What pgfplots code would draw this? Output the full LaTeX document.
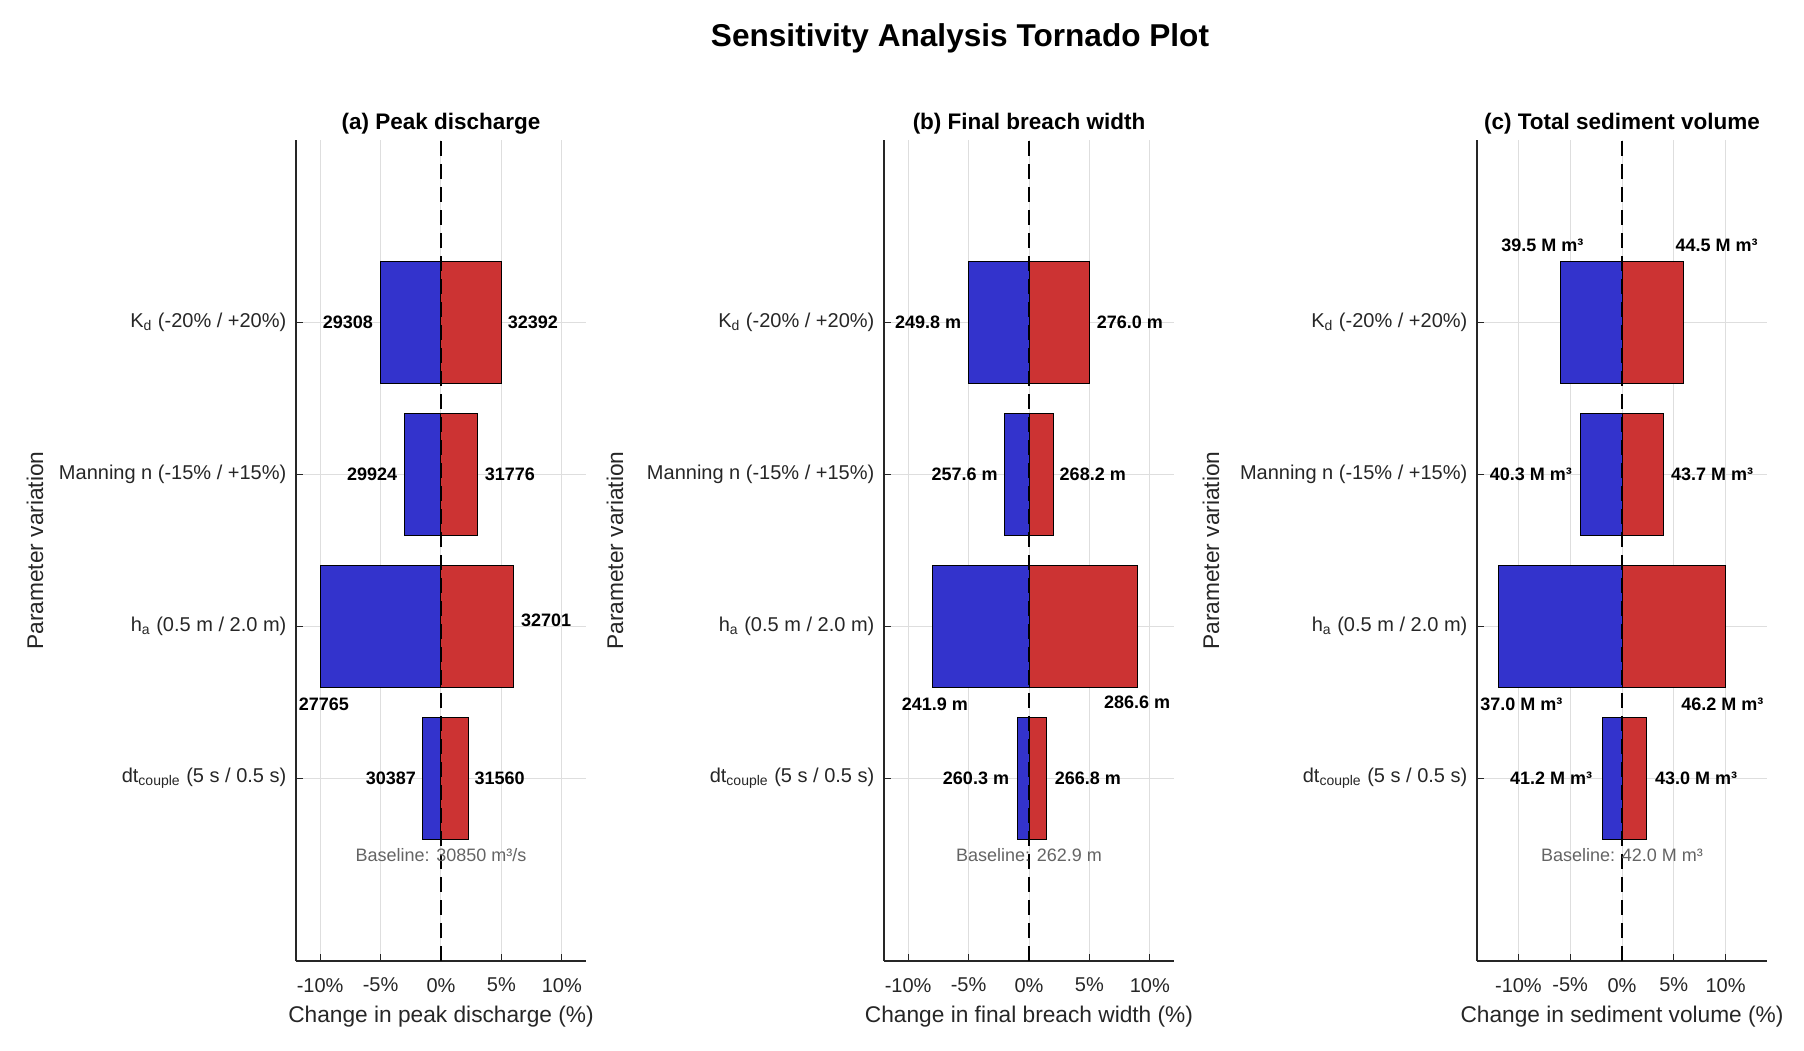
\documentclass[border=0pt]{standalone}
\usepackage{fontspec}
\setmainfont{Liberation Sans}
\usepackage{pgfplots}
\pgfplotsset{compat=1.18}
\definecolor{barblue}{RGB}{51,51,204}
\definecolor{barred}{RGB}{204,51,51}
\definecolor{axgray}{RGB}{38,38,38}
\definecolor{gridgray}{RGB}{222,222,222}
\definecolor{basegray}{RGB}{100,100,100}

\pgfplotsset{
  tornado/.style={
    scale only axis, width=145pt, height=410.5pt,
    axis x line*=bottom, axis y line*=left,
    ymin=-0.2, ymax=5.2,
    ytick={1,2,3,4},
    yticklabels={dt\textsubscript{couple} (5 s / 0.5 s), h\textsubscript{a} (0.5 m / 2.0 m), Manning n (-15\% / +15\%), K\textsubscript{d} (-20\% / +20\%)},
    xtick={-10,-5,0,5,10},
    xticklabels={-10\%,-5\%,0\%,5\%,10\%},
    tick align=inside,
    major tick length=3.5pt,
    xmajorgrids, ymajorgrids,
    grid style={gridgray, line width=0.5pt},
    axis line style={axgray, line width=0.6pt},
    tick style={axgray, line width=0.6pt},
    tick label style={font=\fontsize{10}{12}\selectfont, text=axgray},
    xticklabel style={yshift=-5pt},
    yticklabel style={xshift=-1.3pt},
    label style={font=\fontsize{11.35}{13}\selectfont, text=axgray},
    xlabel style={at={(axis description cs:0.5,-0.068)}, anchor=center},
    every axis title/.style={font=\fontsize{11.25}{13}\selectfont\bfseries, at={(axis description cs:0.5,1)}, anchor=base, yshift=5.4pt},
    ylabel={Parameter variation},
    clip=false,
  },
  lowbar/.style={xbar, bar width=0.8, bar shift=0pt, fill=barblue, draw=black, line width=0.5pt},
  highbar/.style={xbar, bar width=0.8, bar shift=0pt, fill=barred, draw=black, line width=0.5pt},
  zeroline/.style={black, line width=1.3pt, dash pattern=on 7.5pt off 4pt},
}
\tikzset{
  val/.style={inner sep=0pt, font=\fontsize{9}{11}\selectfont\bfseries, text=black},
  base/.style={inner sep=0pt, font=\fontsize{9}{11}\selectfont, text=basegray},
}

\begin{document}
\begin{tikzpicture}
\useasboundingbox (0,0) rectangle (902pt,525pt);
\node[anchor=base, font=\fontsize{15.8}{18}\selectfont\bfseries] at (480pt,501.7pt) {Sensitivity Analysis Tornado Plot};

% (a) Peak discharge, baseline 30850
\begin{axis}[tornado, at={(148pt,44.5pt)}, anchor=south west,
  xmin=-12, xmax=12,
  title={(a) Peak discharge},
  xlabel={Change in peak discharge (\%)},
  ylabel style={at={(axis description cs:-0.900,0.5)}, anchor=center}]
\addplot[lowbar] coordinates {(-1.50,1) (-10.00,2) (-3.00,3) (-5.00,4)};
\addplot[highbar] coordinates {(2.30,1) (6.00,2) (3.00,3) (5.00,4)};
\addplot[zeroline] coordinates {(0,-0.2) (0,5.2)};
\node[val, anchor=east] at (axis cs:-5.6,4) {29308};
\node[val, anchor=west] at (axis cs:5.5,4) {32392};
\node[val, anchor=east] at (axis cs:-3.6,3) {29924};
\node[val, anchor=west] at (axis cs:3.6,3) {31776};
\node[val, anchor=center] at (axis cs:-9.7,1.49) {27765};
\node[val, anchor=west] at (axis cs:6.6,2.04) {32701};
\node[val, anchor=east] at (axis cs:-2.05,1) {30387};
\node[val, anchor=west] at (axis cs:2.75,1) {31560};
\node[base] at (axis cs:0,0.5) {Baseline: 30850 m³/s};
\end{axis}

% (b) Final breach width, baseline 262.9
\begin{axis}[tornado, at={(442pt,44.5pt)}, anchor=south west,
  xmin=-12, xmax=12,
  title={(b) Final breach width},
  xlabel={Change in final breach width (\%)},
  ylabel style={at={(axis description cs:-0.928,0.5)}, anchor=center}]
\addplot[lowbar] coordinates {(-0.99,1) (-7.99,2) (-2.02,3) (-4.98,4)};
\addplot[highbar] coordinates {(1.48,1) (9.01,2) (2.02,3) (4.98,4)};
\addplot[zeroline] coordinates {(0,-0.2) (0,5.2)};
\node[val, anchor=east] at (axis cs:-5.59,4) {249.8 m};
\node[val, anchor=west] at (axis cs:5.59,4) {276.0 m};
\node[val, anchor=east] at (axis cs:-2.57,3) {257.6 m};
\node[val, anchor=west] at (axis cs:2.51,3) {268.2 m};
\node[val, anchor=center] at (axis cs:-7.79,1.49) {241.9 m};
\node[val, anchor=center] at (axis cs:8.94,1.50) {286.6 m};
\node[val, anchor=east] at (axis cs:-1.62,1) {260.3 m};
\node[val, anchor=west] at (axis cs:2.1,1) {266.8 m};
\node[base] at (axis cs:0,0.5) {Baseline: 262.9 m};
\end{axis}

% (c) Total sediment volume, baseline 42.0
\begin{axis}[tornado, at={(738.5pt,44.5pt)}, anchor=south west,
  xmin=-14, xmax=14,
  title={(c) Total sediment volume},
  xlabel={Change in sediment volume (\%)},
  ylabel style={at={(axis description cs:-0.917,0.5)}, anchor=center}]
\addplot[lowbar] coordinates {(-1.90,1) (-11.90,2) (-4.05,3) (-5.95,4)};
\addplot[highbar] coordinates {(2.38,1) (10.00,2) (4.05,3) (5.95,4)};
\addplot[zeroline] coordinates {(0,-0.2) (0,5.2)};
\node[val, anchor=center] at (axis cs:-7.7,4.51) {39.5 M m³};
\node[val, anchor=center] at (axis cs:9.13,4.51) {44.5 M m³};
\node[val, anchor=east] at (axis cs:-4.8,3) {40.3 M m³};
\node[val, anchor=west] at (axis cs:4.7,3) {43.7 M m³};
\node[val, anchor=center] at (axis cs:-9.72,1.49) {37.0 M m³};
\node[val, anchor=center] at (axis cs:9.69,1.49) {46.2 M m³};
\node[val, anchor=east] at (axis cs:-2.85,1) {41.2 M m³};
\node[val, anchor=west] at (axis cs:3.15,1) {43.0 M m³};
\node[base] at (axis cs:0,0.5) {Baseline: 42.0 M m³};
\end{axis}
\end{tikzpicture}
\end{document}
